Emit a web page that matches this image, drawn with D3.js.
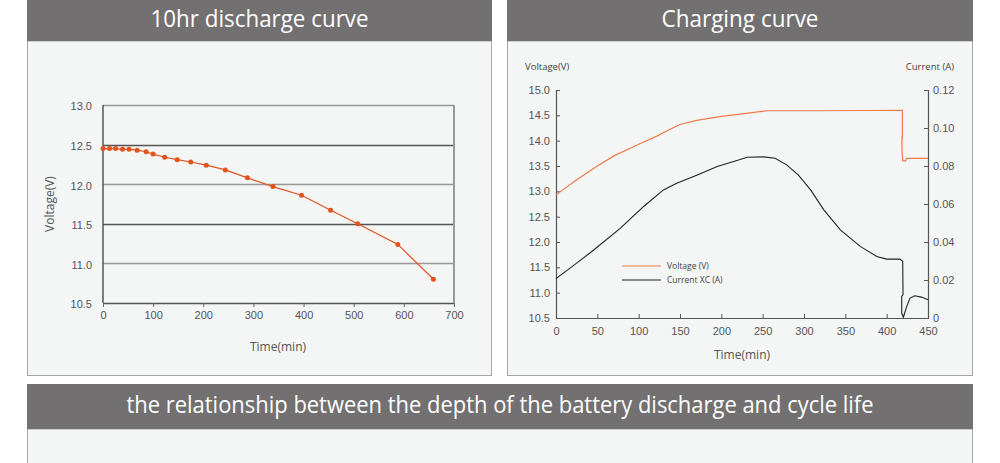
<!DOCTYPE html>
<html>
<head>
<meta charset="utf-8">
<script src="https://cdn.jsdelivr.net/npm/d3@7"></script>
<style>
  body { margin: 0; background: #fff; }
  svg { display: block; font-family: "Open Sans", "Noto Sans", sans-serif; }
</style>
</head>
<body>
<svg id="chart" width="1000" height="463"></svg>
<script>
// 10hr discharge curve
const dischargeTime = [0, 13, 25, 39, 52, 68, 86, 100, 123, 148, 175, 206, 244, 288, 339, 396, 454, 508, 588, 659];
const dischargeVolt = [12.45, 12.45, 12.45, 12.44, 12.44, 12.43, 12.41, 12.38, 12.34, 12.31, 12.28, 12.24, 12.18, 12.08, 11.97, 11.86, 11.67, 11.50, 11.24, 10.80];
const dischargeXTicks = [0, 100, 200, 300, 400, 500, 600, 700];
const dischargeYTicks = [10.5, 11.0, 11.5, 12.0, 12.5, 13.0];

// charging curve
const chargeVTime = [0, 25, 50, 70, 100, 122, 135, 150, 170, 200, 230, 255, 320, 419, 419, 418.5, 418.5, 419.5, 423, 424, 450];
const chargeVolt = [12.93, 13.23, 13.50, 13.70, 13.93, 14.09, 14.20, 14.32, 14.40, 14.48, 14.54, 14.59, 14.59, 14.60, 14.06, 14.06, 13.82, 13.60, 13.60, 13.65, 13.65];
const chargeITime = [0, 25, 46, 78, 106, 130, 146, 171, 195, 219, 231, 251, 265, 279, 293, 308, 324, 344, 368, 388, 400, 416, 419.4, 419.8, 418.2, 418.2, 420.2, 424.3, 428.3, 434, 442, 450];
const chargeCurrent = [0.0207, 0.0289, 0.0359, 0.0473, 0.0587, 0.0674, 0.0709, 0.0753, 0.0797, 0.0829, 0.0846, 0.0848, 0.0841, 0.0806, 0.0753, 0.0674, 0.0569, 0.0464, 0.0377, 0.0324, 0.0310, 0.0310, 0.0298, 0.0123, 0.0114, 0.0026, 0.0004, 0.0061, 0.0105, 0.0117, 0.0110, 0.0096];
const chargeXTicks = [0, 50, 100, 150, 200, 250, 300, 350, 400, 450];
const chargeVTicks = [10.5, 11.0, 11.5, 12.0, 12.5, 13.0, 13.5, 14.0, 14.5, 15.0];
const chargeITicks = [0, 0.02, 0.04, 0.06, 0.08, 0.10, 0.12];
const legendNames = ["Voltage (V)", "Current XC (A)"];

const titles = ["10hr discharge curve", "Charging curve", "the relationship between the depth of the battery discharge and cycle life"];

const svg = d3.select("#chart");

// panels
function panel(x, y, w, h, headH, title, fs, tl, ty) {
    svg.append("rect").attr("x", x + 0.5).attr("y", y + headH).attr("width", w - 1).attr("height", h - headH - 0.5)
        .attr("fill", "#f4f5f5").attr("stroke", "#a8a8a8");
    svg.append("rect").attr("x", x).attr("y", y).attr("width", w).attr("height", headH).attr("fill", "#727071");
    svg.append("text").attr("x", x + w / 2).attr("y", y + ty)
        .attr("text-anchor", "middle").attr("fill", "#fff").style("font-size", fs + "px")
        .attr("textLength", tl).attr("lengthAdjust", "spacingAndGlyphs")
        .text(title);
}
panel(27, 0, 465, 376, 41, titles[0], 24, 218, 27);
panel(507, 0, 466, 376, 41, titles[1], 24, 157, 27);
panel(27, 384, 946, 90, 45, titles[2], 23, 747, 29);

// ---- discharge chart ----
const dx = d3.scaleLinear().domain([0, 700]).range([103, 454]);
const dy = d3.scaleLinear().domain([10.5, 13]).range([303, 105]);
const g1 = svg.append("g");

g1.selectAll(".grid").data(dischargeYTicks).enter().append("line")
    .attr("x1", dx(0)).attr("x2", dx(700))
    .attr("y1", d => Math.round(dy(d)) + 0.5).attr("y2", d => Math.round(dy(d)) + 0.5)
    .attr("stroke", (d, i) => i % 2 ? "#999" : "#555").attr("stroke-width", 1.5);
g1.append("line").attr("x1", dx(700)).attr("x2", dx(700)).attr("y1", dy(13)).attr("y2", dy(10.5))
    .attr("stroke", "#999").attr("stroke-width", 2);
g1.append("line").attr("x1", dx(0)).attr("x2", dx(0)).attr("y1", dy(13)).attr("y2", dy(10.5))
    .attr("stroke", "#555").attr("stroke-width", 1.5);

const xAxis1 = g1.append("g").attr("transform", `translate(0,${dy(10.5)})`)
    .call(d3.axisBottom(dx).tickValues(dischargeXTicks).tickSize(4).tickFormat(d3.format("d")));
xAxis1.select(".domain").remove();
xAxis1.selectAll("line").attr("stroke", "#666");
xAxis1.selectAll("text").attr("fill", "#555").style("font-size", "11px").attr("dy", "0.85em");

const yAxis1 = g1.append("g").attr("transform", `translate(${dx(0) - 8},0)`)
    .call(d3.axisLeft(dy).tickValues(dischargeYTicks).tickSize(0).tickFormat(d3.format(".1f")));
yAxis1.select(".domain").remove();
yAxis1.selectAll("text").attr("fill", "#555").style("font-size", "11px").attr("dy", "0.45em");

g1.append("text").attr("transform", "translate(54,204) rotate(-90)").attr("text-anchor", "middle")
    .attr("fill", "#555").style("font-size", "12px").text("Voltage(V)");
g1.append("text").attr("x", 278).attr("y", 351).attr("text-anchor", "middle")
    .attr("fill", "#555").style("font-size", "12px").text("Time(min)");

const discharge = dischargeTime.map((t, i) => ({ t: t, v: dischargeVolt[i] }));
g1.append("path").datum(discharge)
    .attr("d", d3.line().x(d => dx(d.t)).y(d => dy(d.v)))
    .attr("fill", "none").attr("stroke", "#e2531e").attr("stroke-width", 1.2);
g1.selectAll(".pt").data(discharge).enter().append("circle")
    .attr("cx", d => dx(d.t)).attr("cy", d => dy(d.v)).attr("r", 2.5).attr("fill", "#e2531e");

// ---- charging chart ----
const cx = d3.scaleLinear().domain([0, 450]).range([556, 928]);
const cyV = d3.scaleLinear().domain([10.5, 15]).range([318, 90]);
const cyI = d3.scaleLinear().domain([0, 0.12]).range([318, 90]);
const g2 = svg.append("g");

const xAxis2 = g2.append("g").attr("transform", `translate(0,${cyV(10.5)})`)
    .call(d3.axisBottom(cx).tickValues(chargeXTicks).tickSize(-4).tickSizeOuter(0).tickFormat(d3.format("d")));
xAxis2.select(".domain").attr("stroke", "#555").attr("stroke-width", 1.2);
xAxis2.selectAll("line").attr("stroke", "#555");
xAxis2.selectAll("text").attr("fill", "#555").style("font-size", "11px").attr("y", 9).attr("dy", "0.71em");

const yAxis2 = g2.append("g").attr("transform", `translate(${cx(0)},0)`)
    .call(d3.axisLeft(cyV).tickValues(chargeVTicks).tickSize(-4).tickSizeOuter(-4).tickFormat(d3.format(".1f")));
yAxis2.select(".domain").attr("stroke", "#555").attr("stroke-width", 1.2);
yAxis2.selectAll("line").attr("stroke", "#555");
yAxis2.selectAll("text").attr("fill", "#555").style("font-size", "11px").attr("x", -6);

const yAxis3 = g2.append("g").attr("transform", `translate(${cx(450)},0)`)
    .call(d3.axisRight(cyI).tickValues(chargeITicks).tickSize(-4).tickSizeOuter(-4)
        .tickFormat(d => d === 0 ? "0" : d3.format(".2f")(d)));
yAxis3.select(".domain").attr("stroke", "#555").attr("stroke-width", 1.2);
yAxis3.selectAll("line").attr("stroke", "#555");
yAxis3.selectAll("text").attr("fill", "#555").style("font-size", "11px").attr("x", 5);

g2.append("text").attr("x", 525).attr("y", 70).attr("fill", "#444").style("font-size", "9.5px").text("Voltage(V)");
g2.append("text").attr("x", 954).attr("y", 70).attr("text-anchor", "end").attr("fill", "#444")
    .style("font-size", "9.5px").text("Current (A)");
g2.append("text").attr("x", 742).attr("y", 359).attr("text-anchor", "middle")
    .attr("fill", "#555").style("font-size", "12px").text("Time(min)");

const voltData = chargeVTime.map((t, i) => ({ t: t, v: chargeVolt[i] }));
const curData = chargeITime.map((t, i) => ({ t: t, v: chargeCurrent[i] }));
g2.append("path").datum(voltData)
    .attr("d", d3.line().x(d => cx(d.t)).y(d => cyV(d.v)))
    .attr("fill", "none").attr("stroke", "#ef7a4c").attr("stroke-width", 1.2);
g2.append("path").datum(curData)
    .attr("d", d3.line().x(d => cx(d.t)).y(d => cyI(d.v)))
    .attr("fill", "none").attr("stroke", "#222").attr("stroke-width", 1.1);

// legend
const legendColors = ["#ef7a4c", "#222"];
legendNames.forEach((name, i) => {
    const row = g2.append("g").attr("transform", `translate(622,${266 + i * 14})`);
    row.append("line").attr("x1", 0).attr("x2", 39).attr("stroke", legendColors[i]).attr("stroke-width", 1.2);
    row.append("text").attr("x", 45).attr("dy", "0.35em").attr("fill", "#444")
        .style("font-size", "8.5px").text(name);
});
</script>
</body>
</html>
